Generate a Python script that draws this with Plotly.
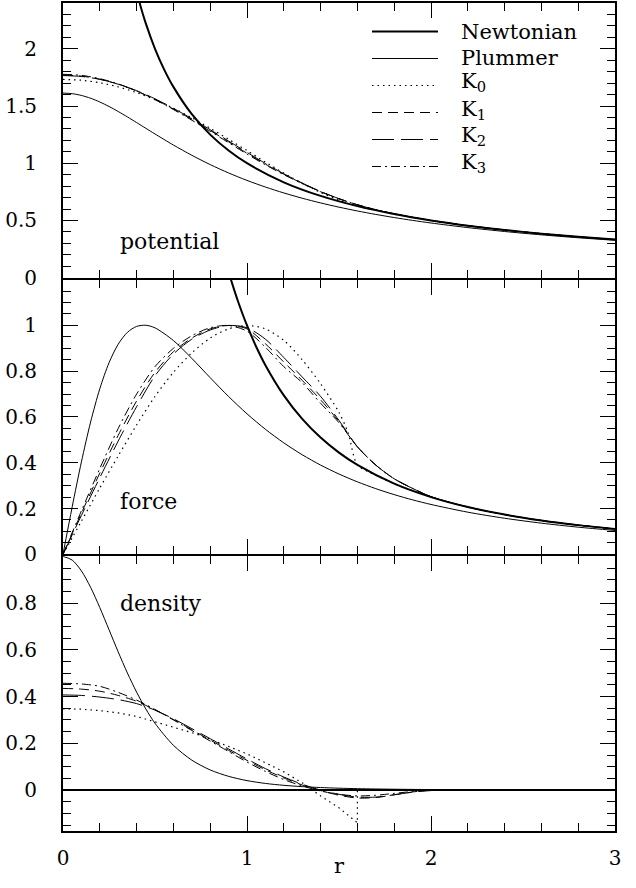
import plotly.graph_objects as go
from plotly.subplots import make_subplots

# ---------------- data ----------------
r_k = [0.0, 0.1, 0.2, 0.3, 0.4, 0.5, 0.6, 0.7, 0.8, 0.9, 1.0, 1.1, 1.2, 1.3, 1.4,
       1.5, 1.6, 1.7, 1.8, 1.9, 2.0, 2.2, 2.4, 2.6, 2.8, 3.0]

k1_potential = [1.770, 1.761, 1.734, 1.690, 1.631, 1.558, 1.474, 1.382, 1.286, 1.187,
                1.087, 0.992, 0.904, 0.824, 0.752, 0.690, 0.637, 0.594, 0.558, 0.527,
                0.500, 0.4545, 0.4167, 0.3846, 0.3571, 0.3333]
k2_potential = [1.766, 1.758, 1.733, 1.691, 1.634, 1.563, 1.480, 1.389, 1.293, 1.194,
                1.095, 0.998, 0.908, 0.827, 0.753, 0.690, 0.637, 0.594, 0.558, 0.527,
                0.500, 0.4545, 0.4167, 0.3846, 0.3571, 0.3333]
k3_potential = [1.777, 1.768, 1.739, 1.693, 1.631, 1.555, 1.469, 1.376, 1.279, 1.179,
                1.080, 0.986, 0.900, 0.822, 0.751, 0.689, 0.637, 0.594, 0.558, 0.527,
                0.500, 0.4545, 0.4167, 0.3846, 0.3571, 0.3333]

k1_force = [0.0, 0.18, 0.355, 0.52, 0.67, 0.795, 0.885, 0.945, 0.985, 1.0, 0.985, 0.92,
            0.84, 0.76, 0.675, 0.58, 0.47, 0.39, 0.33, 0.288, 0.252,
            0.2066, 0.1736, 0.1479, 0.1276, 0.1111]
k2_force = [0.0, 0.17, 0.335, 0.495, 0.645, 0.78, 0.875, 0.94, 0.98, 1.0, 0.99, 0.94,
            0.86, 0.775, 0.69, 0.585, 0.47, 0.39, 0.33, 0.288, 0.252,
            0.2066, 0.1736, 0.1479, 0.1276, 0.1111]
k3_force = [0.0, 0.19, 0.375, 0.55, 0.70, 0.82, 0.90, 0.955, 0.99, 1.0, 0.975, 0.905,
            0.82, 0.75, 0.66, 0.575, 0.47, 0.39, 0.33, 0.288, 0.252,
            0.2066, 0.1736, 0.1479, 0.1276, 0.1111]

k1_density = [0.435, 0.432, 0.423, 0.405, 0.38, 0.343, 0.302, 0.258, 0.214, 0.17, 0.127,
              0.087, 0.052, 0.022, -0.002, -0.022, -0.034, -0.032, -0.02, -0.008, 0.0,
              0.0, 0.0, 0.0, 0.0, 0.0]
k2_density = [0.407, 0.405, 0.398, 0.387, 0.37, 0.342, 0.305, 0.263, 0.22, 0.176, 0.133,
              0.092, 0.056, 0.025, 0.0, -0.018, -0.03, -0.03, -0.02, -0.009, -0.002,
              0.0, 0.0, 0.0, 0.0, 0.0]
k3_density = [0.457, 0.454, 0.444, 0.418, 0.385, 0.345, 0.30, 0.255, 0.21, 0.165, 0.12,
              0.08, 0.045, 0.018, -0.004, -0.018, -0.025, -0.022, -0.014, -0.006, -0.001,
              0.0, 0.0, 0.0, 0.0, 0.0]

r_k0 = [0.0, 0.1, 0.2, 0.3, 0.4, 0.5, 0.6, 0.7, 0.8, 0.9, 1.0, 1.1, 1.2, 1.3, 1.4, 1.5,
        1.55, 1.6, 1.7, 1.8, 2.0, 2.2, 2.4, 2.6, 2.8, 3.0]
k0_potential = [1.732, 1.725, 1.703, 1.667, 1.617, 1.555, 1.480, 1.397, 1.305, 1.209,
                1.110, 1.010, 0.914, 0.825, 0.745, 0.677, 0.648, 0.625, 0.5882, 0.5556,
                0.5, 0.4545, 0.4167, 0.3846, 0.3571, 0.3333]
k0_force = [0.0, 0.145, 0.29, 0.43, 0.565, 0.69, 0.795, 0.88, 0.945, 0.985, 1.0, 0.985,
            0.935, 0.85, 0.745, 0.62, 0.53, 0.391, 0.346, 0.3086, 0.25, 0.2066, 0.1736,
            0.1479, 0.1276, 0.1111]
r_k0_density = [0.0, 0.1, 0.2, 0.3, 0.4, 0.5, 0.6, 0.7, 0.8, 0.9, 1.0, 1.1, 1.2, 1.3,
                1.4, 1.5, 1.6, 1.6, 3.0]
k0_density = [0.348, 0.346, 0.34, 0.33, 0.315, 0.293, 0.27, 0.246, 0.218, 0.186, 0.155,
              0.117, 0.078, 0.031, -0.025, -0.076, -0.14, 0.0, 0.0]

r_plummer = [0.0, 0.05, 0.1, 0.15, 0.2, 0.25, 0.3, 0.35, 0.4, 0.45, 0.5, 0.6, 0.7, 0.8,
             0.9, 1.0, 1.1, 1.2, 1.3, 1.4, 1.5, 1.6, 1.7, 1.8, 1.9, 2.0, 2.2, 2.4, 2.6,
             2.8, 3.0]
plummer_potential = [1.6129, 1.6077, 1.5923, 1.5677, 1.5350, 1.4959, 1.4519, 1.4046,
                     1.3553, 1.3053, 1.2555, 1.1590, 1.0694, 0.9880, 0.9150, 0.8499,
                     0.7920, 0.7404, 0.6943, 0.6531, 0.6161, 0.5828, 0.5526, 0.5253,
                     0.5004, 0.4776, 0.4375, 0.4034, 0.3741, 0.3487, 0.3264]
plummer_force = [0.0, 0.2078, 0.4037, 0.5779, 0.7234, 0.8368, 0.9181, 0.9698, 0.9958,
                 1.0008, 0.9895, 0.9342, 0.8561, 0.7716, 0.6895, 0.6139, 0.5464, 0.4870,
                 0.4351, 0.3900, 0.3508, 0.3167, 0.2869, 0.2609, 0.2380, 0.2179, 0.1842,
                 0.1576, 0.1362, 0.1187, 0.1044]
plummer_density = [1.0, 0.9839, 0.9378, 0.8674, 0.7808, 0.6862, 0.5911, 0.5008, 0.4190,
                   0.3472, 0.2858, 0.1916, 0.1281, 0.0862, 0.0588, 0.0406, 0.0285, 0.0204,
                   0.0148, 0.0109, 0.0081, 0.0062, 0.0047, 0.0037, 0.0029, 0.0023, 0.0015,
                   0.0010, 0.0007, 0.0005, 0.0003]

r_newton_potential = [0.4, 0.42, 0.45, 0.5, 0.55, 0.6, 0.7, 0.8, 0.9, 1.0, 1.2, 1.4, 1.6,
                      1.8, 2.0, 2.2, 2.4, 2.6, 2.8, 3.0]
newton_potential = [2.5, 2.381, 2.222, 2.0, 1.818, 1.667, 1.4286, 1.25, 1.1111, 1.0,
                    0.8333, 0.7143, 0.625, 0.5556, 0.5, 0.4545, 0.4167, 0.3846, 0.3571,
                    0.3333]
r_newton_force = [0.9, 0.92, 0.95, 1.0, 1.05, 1.1, 1.2, 1.3, 1.4, 1.5, 1.6, 1.8, 2.0,
                  2.2, 2.4, 2.6, 2.8, 3.0]
newton_force = [1.2346, 1.1815, 1.1080, 1.0, 0.9070, 0.8264, 0.6944, 0.5917, 0.5102,
                0.4444, 0.3906, 0.3086, 0.25, 0.2066, 0.1736, 0.1479, 0.1276, 0.1111]
r_newton_density = [0.0, 3.0]
newton_density = [0.0, 0.0]

x_tick_values = [0, 1, 2, 3]
x_tick_labels = ["0", "1", "2", "3"]
pot_tick_values = [0, 0.5, 1, 1.5, 2]
pot_tick_labels = ["0", "0.5", "1", "1.5", "2"]
force_tick_values = [0, 0.2, 0.4, 0.6, 0.8, 1.0]
force_tick_labels = ["0", "0.2", "0.4", "0.6", "0.8", "1"]
dens_tick_values = [0, 0.2, 0.4, 0.6, 0.8]
dens_tick_labels = ["0", "0.2", "0.4", "0.6", "0.8"]

legend_names = ["Newtonian", "Plummer", "K<sub>0</sub>", "K<sub>1</sub>",
                "K<sub>2</sub>", "K<sub>3</sub>"]
panel_names = ["potential", "force", "density"]
x_title = "r"

# ---------------- styles ----------------
FONT = "DejaVu Serif"
styles = {
    "Newtonian": dict(color="black", width=2.0, dash="solid"),
    "Plummer": dict(color="black", width=1.0, dash="solid"),
    "K0": dict(color="black", width=1.2, dash="1.5px,4px"),
    "K1": dict(color="black", width=1.0, dash="10px,6px"),
    "K2": dict(color="black", width=1.0, dash="22px,7px"),
    "K3": dict(color="black", width=1.0, dash="9px,4px,2px,4px"),
}

W, H, L, B, T = 552.0, 828.0, 63.0, 57.0, 3.0
gap = 2.0 / H  # lets neighbouring frame lines coincide

fig = make_subplots(rows=3, cols=1, shared_xaxes=True, vertical_spacing=gap)


def add(row, x, y, key, shape="spline"):
    fig.add_trace(go.Scatter(x=x, y=y, mode="lines", showlegend=False,
                             line=dict(shape=shape, smoothing=0.8, **styles[key])),
                  row=row, col=1)


# potential
add(1, r_k0, k0_potential, "K0")
add(1, r_k, k1_potential, "K1")
add(1, r_k, k2_potential, "K2")
add(1, r_k, k3_potential, "K3")
add(1, r_plummer, plummer_potential, "Plummer")
add(1, r_newton_potential, newton_potential, "Newtonian")
# force
add(2, r_k0, k0_force, "K0")
add(2, r_k, k1_force, "K1")
add(2, r_k, k2_force, "K2")
add(2, r_k, k3_force, "K3")
add(2, r_plummer, plummer_force, "Plummer")
add(2, r_newton_force, newton_force, "Newtonian")
# density
add(3, r_k0_density, k0_density, "K0", shape="linear")
add(3, r_k, k1_density, "K1")
add(3, r_k, k2_density, "K2")
add(3, r_k, k3_density, "K3")
add(3, r_plummer, plummer_density, "Plummer")
add(3, r_newton_density, newton_density, "Newtonian", shape="linear")

tickfont = dict(family=FONT, size=20, color="black")
common_axis = dict(showline=True, linewidth=2, linecolor="black", mirror="allticks",
                   ticks="inside", ticklen=15, tickwidth=1, tickcolor="black",
                   showgrid=False, zeroline=False, tickfont=tickfont, automargin=False)

for i in (1, 2, 3):
    fig.update_xaxes(row=i, col=1, range=[0, 3], tickmode="array",
                     tickvals=x_tick_values, ticktext=x_tick_labels,
                     showticklabels=(i == 3), ticklabelstandoff=8,
                     minor=dict(tickmode="linear", tick0=0, dtick=0.2, ticks="inside",
                                ticklen=8, tickwidth=1, tickcolor="black"),
                     **common_axis)

minor_y = dict(ticks="inside", ticklen=8, tickwidth=1, tickcolor="black",
               tickmode="linear", tick0=0)
fig.update_yaxes(row=1, col=1, range=[0, 2.4], tickmode="array",
                 tickvals=pot_tick_values, ticktext=pot_tick_labels,
                 minor=dict(dtick=0.1, **minor_y), ticklabelstandoff=20, **common_axis)
fig.update_yaxes(row=2, col=1, range=[0, 1.2], tickmode="array",
                 tickvals=force_tick_values, ticktext=force_tick_labels,
                 minor=dict(dtick=0.05, **minor_y), ticklabelstandoff=20, **common_axis)
fig.update_yaxes(row=3, col=1, range=[-0.175, 1.0], tickmode="array",
                 tickvals=dens_tick_values, ticktext=dens_tick_labels,
                 minor=dict(dtick=0.05, **minor_y), ticklabelstandoff=20, **common_axis)

# x-axis title, placed just under the tick labels
fig.add_annotation(text=x_title, xref="x3 domain", yref="paper", x=0.5,
                   y=(T + H - 866) / H, xanchor="center", yanchor="middle",
                   showarrow=False, font=dict(family=FONT, size=21, color="black"))

# panel labels
panel_label_pos = [("x domain", "y domain", 0.099, 0.133),
                   ("x2 domain", "y2 domain", 0.099, 0.194),
                   ("x3 domain", "y3 domain", 0.099, 0.828)]
for name, (xr, yr, px, py) in zip(panel_names, panel_label_pos):
    fig.add_annotation(text=name, xref=xr, yref=yr, x=px, y=py, xanchor="left",
                       yanchor="middle", showarrow=False,
                       font=dict(family=FONT, size=22, color="black"))

# legend (drawn manually, top-right of the potential panel)
legend_keys = ["Newtonian", "Plummer", "K0", "K1", "K2", "K3"]
for i, (key, label) in enumerate(zip(legend_keys, legend_names)):
    ypix = 31.5 + 27.0 * i
    yp = (H + T - ypix) / H
    st = styles[key]
    fig.add_shape(type="line", xref="paper", yref="paper",
                  x0=(372 - L) / W, x1=(438 - L) / W, y0=yp, y1=yp,
                  line=dict(color=st["color"], width=st["width"], dash=st["dash"]))
    fig.add_annotation(text=label, xref="paper", yref="paper", x=(459 - L) / W,
                       y=yp + (0 if i < 2 else 3.0 / H),
                       xanchor="left", yanchor="middle", showarrow=False,
                       font=dict(family=FONT, size=21, color="black"))

fig.update_layout(width=636, height=888, margin=dict(l=63, r=21, t=3, b=57),
                  plot_bgcolor="white", paper_bgcolor="white", showlegend=False,
                  font=dict(family=FONT, color="black"))

fig.write_html("out.html", config={"displayModeBar": False},
               post_script="document.body.style.margin='0';"
                           "document.body.style.overflow='hidden';")
